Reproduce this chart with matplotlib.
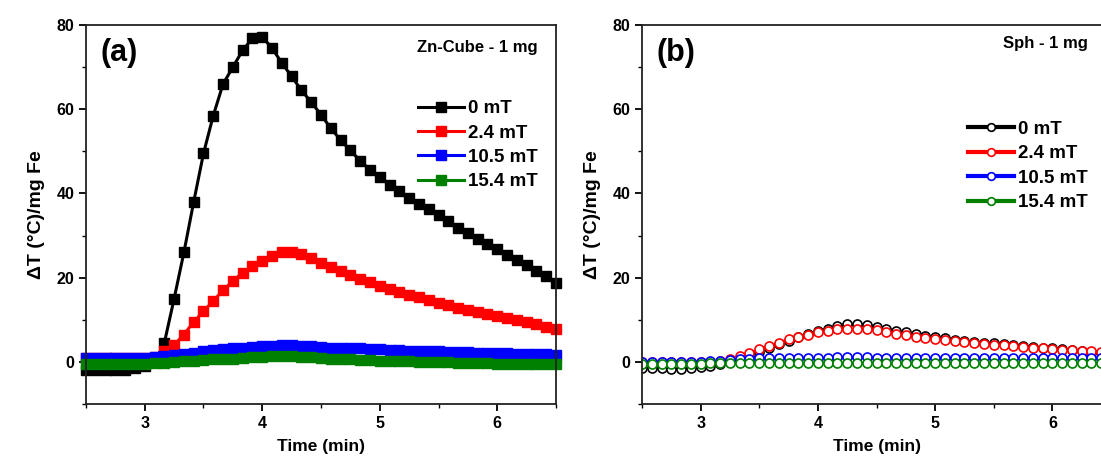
import matplotlib
matplotlib.use("Agg")
import matplotlib.pyplot as plt
from matplotlib.ticker import MultipleLocator

plt.rcParams['font.family'] = ['Liberation Sans', 'DejaVu Sans']
plt.rcParams['font.weight'] = 'bold'

# time axis: one reading every 5 s from 2.5 to 6.5 min
time = [2.5 + k / 12 for k in range(49)]
labels = ["0 mT", "2.4 mT", "10.5 mT", "15.4 mT"]
colors = ["black", "red", "blue", "green"]

# (a) Zn-Cube - 1 mg
cube_0 = [-2, -2, -2, -2, -2, -1.5, -1, 0, 4.5, 15, 26, 38, 49.5, 58.5, 66, 70, 74,
          76.8, 77.2, 74.5, 71, 67.8, 64.5, 61.7, 58.7, 55.5, 52.7, 50.2, 47.8, 45.6,
          43.8, 42.1, 40.5, 39, 37.5, 36.2, 35, 33.4, 31.9, 30.5, 29.2, 28, 26.8, 25.5,
          24.3, 23, 21.7, 20.3, 18.8]
cube_24 = [1, 1, 1, 1, 1, 1, 1, 1.2, 2.5, 4, 6.5, 9.5, 12, 14.5, 17, 19.2, 21.2, 22.8,
           24, 25.2, 26, 26.2, 25.6, 24.6, 23.6, 22.6, 21.6, 20.6, 19.7, 18.9, 18.1,
           17.4, 16.7, 16, 15.3, 14.7, 14.1, 13.5, 12.9, 12.4, 11.9, 11.4, 10.9, 10.4,
           9.9, 9.4, 8.9, 8.4, 7.9]
cube_105 = [1, 1, 1, 1, 1, 1, 1, 1.1, 1.3, 1.6, 1.9, 2.2, 2.5, 2.8, 3.0, 3.2, 3.4, 3.6,
            3.7, 3.8, 3.9, 3.9, 3.8, 3.7, 3.5, 3.4, 3.3, 3.2, 3.2, 3.1, 3.0, 2.9, 2.8,
            2.7, 2.6, 2.6, 2.5, 2.4, 2.3, 2.3, 2.2, 2.1, 2.0, 2.0, 1.9, 1.9, 1.8, 1.8, 1.7]
cube_154 = [-0.6, -0.6, -0.6, -0.6, -0.6, -0.6, -0.5, -0.3, -0.2, 0, 0.1, 0.3, 0.4, 0.6,
            0.7, 0.8, 1.0, 1.1, 1.2, 1.3, 1.3, 1.3, 1.2, 1.1, 0.9, 0.8, 0.7, 0.6, 0.5,
            0.4, 0.3, 0.2, 0.1, 0.1, 0, 0, -0.1, -0.1, -0.2, -0.2, -0.3, -0.3, -0.4,
            -0.4, -0.4, -0.4, -0.4, -0.4, -0.4]

# (b) Sph - 1 mg
sph_0 = [-1.5, -1.5, -1.5, -1.6, -1.6, -1.5, -1.3, -1.0, -0.5, 0, 0.6, 1.4, 2.3, 3.2,
         4.2, 5.0, 5.8, 6.6, 7.3, 7.9, 8.5, 9.0, 9.1, 8.8, 8.4, 7.9, 7.4, 7.0, 6.6, 6.2,
         5.9, 5.6, 5.3, 5.0, 4.8, 4.6, 4.4, 4.2, 4.0, 3.8, 3.6, 3.4, 3.2, 3.0, 2.8, 2.6,
         2.4, 2.2, 2.0]
sph_24 = [0, 0, 0, 0, 0, 0, 0, 0, 0.2, 0.6, 1.4, 2.2, 3.0, 3.8, 4.6, 5.4, 5.9, 6.5, 7.0,
          7.4, 7.7, 7.8, 7.9, 7.8, 7.5, 7.1, 6.7, 6.3, 6.0, 5.7, 5.4, 5.1, 4.9, 4.7, 4.5,
          4.3, 4.1, 3.9, 3.7, 3.5, 3.4, 3.2, 3.1, 2.9, 2.8, 2.7, 2.5, 2.4, 2.3]
sph_105 = [0, 0, 0, 0, 0, 0, 0, 0.1, 0.3, 0.5, 0.7, 0.8, 0.9, 0.9, 1.0, 1.0, 1.0, 1.0,
           1.0, 1.0, 1.1, 1.1, 1.1, 1.1, 1.0, 1.0, 1.0, 1.0, 1.0, 1.0, 1.0, 1.0, 1.0,
           1.0, 1.0, 1.0, 1.0, 1.0, 1.0, 1.0, 1.0, 1.0, 1.0, 1.0, 1.0, 1.0, 1.0, 1.0, 1.0]
sph_154 = [-0.5, -0.5, -0.5, -0.5, -0.5, -0.5, -0.4, -0.3, -0.3, -0.2, -0.2, -0.2, -0.2,
           -0.2, -0.2, -0.2, -0.2, -0.2, -0.2, -0.2, -0.2, -0.2, -0.2, -0.2, -0.2, -0.2,
           -0.2, -0.2, -0.2, -0.2, -0.2, -0.2, -0.2, -0.2, -0.2, -0.2, -0.2, -0.2, -0.2,
           -0.2, -0.2, -0.2, -0.2, -0.2, -0.2, -0.2, -0.2, -0.2, -0.2]

fig = plt.figure(figsize=(11.01, 4.7), dpi=100)
ax1 = fig.add_axes([0.0781, 0.1404, 0.4269, 0.8064])
ax2 = fig.add_axes([0.5831, 0.1404, 0.426, 0.8064])


def style(ax):
    ax.set_xlim(2.5, 6.5)
    ax.set_ylim(-10, 80)
    ax.xaxis.set_major_locator(MultipleLocator(1))
    ax.xaxis.set_minor_locator(MultipleLocator(0.5))
    ax.yaxis.set_major_locator(MultipleLocator(20))
    ax.yaxis.set_minor_locator(MultipleLocator(10))
    ax.set_yticks([0, 20, 40, 60, 80])
    ax.tick_params(which='major', direction='out', length=5, width=1.3, labelsize=11.5)
    ax.tick_params(which='minor', direction='out', length=3, width=1.0)
    for lab in ax.get_xticklabels() + ax.get_yticklabels():
        lab.set_fontweight('bold')
    for s in ax.spines.values():
        s.set_linewidth(1.3)
        s.set_color('#222222')
    ax.set_xlabel("Time (min)", fontsize=12.5, fontweight='bold', labelpad=6)
    ax.set_ylabel("ΔT (°C)/mg Fe", fontsize=14, fontweight='bold', labelpad=8)


def legend(ax, anchor):
    leg = ax.legend(loc='upper left', bbox_to_anchor=anchor, frameon=False,
                    fontsize=13.5, handlelength=2.45, handletextpad=0.2,
                    labelspacing=0.39, numpoints=1, borderpad=0, borderaxespad=0)
    for t in leg.get_texts():
        t.set_fontweight('bold')
    return leg


cube = [cube_0, cube_24, cube_105, cube_154]
for vals, c, lab in zip(cube, colors, labels):
    ax1.plot(time, vals, color=c, lw=2.2, marker='s', ms=6.5, label=lab, clip_on=False)
style(ax1)
ax1.text(0.03, 0.925, "(a)", transform=ax1.transAxes, fontsize=22, fontweight='bold',
         va='center', ha='left')
ax1.text(0.96, 0.94, "Zn-Cube - 1 mg", transform=ax1.transAxes, fontsize=12,
         fontweight='bold', va='center', ha='right')
legend(ax1, (0.707, 0.802))

sph = [sph_0, sph_24, sph_105, sph_154]
for vals, c, lab in zip(sph, colors, labels):
    ax2.plot(time, vals, color=c, lw=1.5, marker='o', ms=6.5, mfc='white', mec=c,
             mew=1.2, label=lab)
style(ax2)
ax2.text(0.03, 0.925, "(b)", transform=ax2.transAxes, fontsize=22, fontweight='bold',
         va='center', ha='left')
ax2.text(0.95, 0.95, "Sph - 1 mg", transform=ax2.transAxes, fontsize=12,
         fontweight='bold', va='center', ha='right')
leg2 = legend(ax2, (0.695, 0.747))
for h in leg2.legend_handles:
    h.set_linewidth(3)
    h.set_markersize(5.5)

fig.savefig("out.png", dpi=100)
